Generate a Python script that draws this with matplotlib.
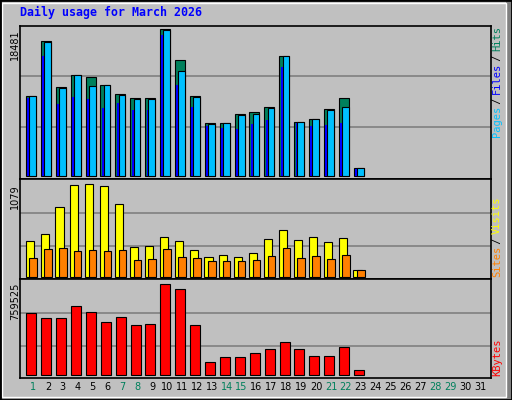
import matplotlib
matplotlib.use("Agg")
import matplotlib.pyplot as plt
from matplotlib.patches import Rectangle
import numpy as np

days = list(range(1, 32))
weekend_days = [1, 7, 8, 14, 15, 21, 22, 28, 29]

hits = [10060, 16970, 11190, 12700, 12450, 11440, 10310, 9810, 9810, 18481, 14580, 10060,
        6660, 6660, 7790, 8050, 8670, 15090, 6790, 7170, 8420, 9810, 1000]
files = [10060, 16850, 11060, 12700, 11320, 11440, 10180, 9680, 9680, 18360, 13200, 9930,
         6540, 6660, 7670, 7790, 8550, 15090, 6790, 7170, 8300, 8670, 1000]
pages = [9810, 15090, 9050, 9930, 9680, 8550, 9180, 8300, 8300, 17730, 11440, 8670,
         6290, 6030, 5910, 6540, 7040, 13700, 6660, 6290, 6410, 6660, 900]
visits = [413, 495, 811, 1068, 1079, 1056, 846, 343, 355, 460, 413, 308,
          227, 250, 227, 273, 437, 542, 425, 460, 402, 449, 75]
sites = [215, 320, 332, 297, 308, 297, 308, 192, 203, 320, 227, 215,
         180, 180, 180, 192, 238, 332, 215, 238, 203, 250, 75]
kbytes = [518600, 477000, 477000, 577000, 527000, 444000, 485000, 419000, 427000, 759525,
          718000, 419000, 111000, 145000, 153000, 186000, 219000, 278000, 219000, 161000,
          161000, 236000, 37000]

BG = "#C0C0C0"
GRID = "#808080"
GREEN = "#00805C"

fig = plt.figure(figsize=(5.12, 4.0), dpi=100, facecolor=BG)

# 3D-ish outer frame
fig.patches.append(Rectangle((0.988, 0.0), 0.012, 1.0, transform=fig.transFigure,
                             facecolor=GRID, edgecolor="none"))
fig.patches.append(Rectangle((0.0, 0.0), 1.0, 0.008, transform=fig.transFigure,
                             facecolor=GRID, edgecolor="none"))
fig.patches.append(Rectangle((0.004, 0.008), 0.984, 0.985, transform=fig.transFigure,
                             fill=False, edgecolor="white", lw=1))
fig.patches.append(Rectangle((0, 0), 1, 1, transform=fig.transFigure, fill=False,
                             edgecolor="black", lw=2))

fig.text(20 / 512, 1 - 12 / 400, "Daily usage for March 2026", color="#0000FF",
         family="DejaVu Sans Mono", weight="bold", fontsize=8.4, va="center", ha="left")

left, width = 20 / 512, 470.7 / 512
step = 14.9
xlim = (1 - 13 / step, 1 + (490.7 - 33) / step)


def make_ax(top_px, bot_px, ylim, grid_fracs):
    ax = fig.add_axes([left, 1 - bot_px / 400, width, (bot_px - top_px) / 400])
    ax.set_facecolor(BG)
    ax.set_xlim(*xlim)
    ax.set_ylim(*ylim)
    ax.set_xticks([])
    ax.set_yticks([])
    for s in ax.spines.values():
        s.set_color("black")
        s.set_linewidth(1.2)
    for f in grid_fracs:
        ax.plot([0, 1], [f, f], transform=ax.transAxes, color=GRID, lw=1.2, zorder=0)
    return ax


x = np.arange(1, len(hits) + 1)

ax1 = make_ax(26, 179, (-377, 18855), [0.34, 0.673])
ax1.bar(x - 0.47, hits, width=0.67, align="edge", color=GREEN, edgecolor="black", lw=0.8)
ax1.bar(x - 0.25, files, width=0.45, align="edge", color="#00C0FF", edgecolor="black", lw=0.8)
ax1.bar(x - 0.38, pages, width=0.13, align="edge", color="#0000FF", edgecolor="none")

ax2 = make_ax(179, 279, (-27, 1141), [0.33, 0.66])
ax2.bar(x - 0.49, visits, width=0.54, align="edge", color="#FFFF00", edgecolor="black", lw=0.8)
ax2.bar(x - 0.25, sites, width=0.5, align="edge", color="#FF8000", edgecolor="black", lw=0.8)

ax3 = make_ax(279, 378, (-27400, 803600), [0.323, 0.654])
ax3.bar(x - 0.45, kbytes, width=0.67, align="edge", color="#FF0000", edgecolor="black", lw=0.8)
ax3.set_xticks(days)
ax3.set_xticklabels([str(d) for d in days], fontsize=7)
ax3.tick_params(axis="x", length=0, pad=3)
for lbl, d in zip(ax3.get_xticklabels(), days):
    lbl.set_color(GREEN if d in weekend_days else "black")

# max value labels on the left
for ypx, txt in [(29, str(max(hits))), (184, str(max(visits))), (283, str(max(kbytes)))]:
    fig.text(15 / 512, 1 - ypx / 400, txt, rotation=90, fontsize=7, va="top", ha="center")


def side_label(parts, bottom_px):
    y = bottom_px
    for txt, col in parts:
        fig.text(497 / 512, 1 - y / 400, txt, rotation=90, color=col, fontsize=7.5,
                 family="DejaVu Sans Mono", va="bottom", ha="center")
        y -= len(txt) * 5.4


side_label([("Pages", "#00C0FF"), (" / ", "black"), ("Files", "#0000FF"),
            (" / ", "black"), ("Hits", GREEN)], 137)
side_label([("Sites", "#FF8000"), (" / ", "black"), ("Visits", "#FFFF00")], 277)
side_label([("KBytes", "#FF0000")], 376)

fig.savefig("out.png", dpi=100, facecolor=BG)
